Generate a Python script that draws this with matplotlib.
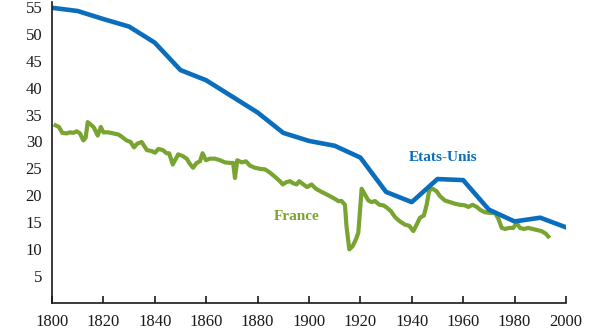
import matplotlib
matplotlib.use("Agg")
import matplotlib.pyplot as plt

# Etats-Unis (par décennie)
us_years = [1800, 1810, 1820, 1830, 1840, 1850, 1860, 1870, 1880, 1890, 1900,
            1910, 1920, 1930, 1940, 1950, 1960, 1970, 1980, 1990, 2000]
us_values = [54.9, 54.3, 52.8, 51.4, 48.4, 43.3, 41.4, 38.4, 35.4, 31.6, 30.1,
             29.2, 27.0, 20.6, 18.7, 23.0, 22.8, 17.3, 15.1, 15.8, 14.0]

# France (annuel)
fr_years = [1801.4, 1802.7, 1804, 1805.7, 1807, 1808.3, 1809.6, 1810.9, 1812.2, 1813.1,
            1813.9, 1815, 1816.3, 1817.8, 1819, 1820, 1821.9, 1823.9, 1825.8, 1827.1,
            1829, 1830.6, 1831.9, 1833.2, 1834.9, 1836.9, 1838.8, 1840.1, 1841.4, 1843.1,
            1844.6, 1845.6, 1847, 1848.2, 1849.1, 1850.8, 1852.4, 1853.7, 1854.9, 1856.3,
            1857.6, 1858.6, 1859.9, 1861.5, 1863.4, 1865.4, 1867.3, 1869.3, 1870.5, 1871.2,
            1872.1, 1873.8, 1875.5, 1877, 1879, 1880.9, 1882.9, 1884.8, 1886.8, 1888.7,
            1889.8, 1891.1, 1892.6, 1893.9, 1895.2, 1896.2, 1897.8, 1899.3, 1901, 1902.7,
            1904.5, 1906.2, 1908.2, 1910.1, 1911.4, 1912.7, 1914, 1914.6, 1915.7, 1917,
            1918.3, 1919.2, 1920.5, 1921.8, 1923.1, 1924.4, 1925.7, 1927.4, 1929, 1930.5,
            1931.9, 1933.5, 1935.4, 1937.4, 1939, 1940.6, 1941.9, 1943.2, 1944.7, 1945.8,
            1946.8, 1948.1, 1949.7, 1951, 1952.9, 1954.9, 1956.8, 1958.8, 1960.7, 1962,
            1963.7, 1965.3, 1966.8, 1968.5, 1970.4, 1972.4, 1973.7, 1975, 1976.3, 1977.9,
            1979.5, 1980.8, 1982.1, 1983.7, 1985.3, 1987, 1988.8, 1990.5, 1992.2, 1993.1]
fr_values = [33.0, 32.7, 31.6, 31.5, 31.7, 31.6, 31.9, 31.5, 30.2, 30.7,
             33.6, 33.2, 32.6, 31.1, 32.7, 31.7, 31.7, 31.5, 31.3, 30.9,
             30.2, 29.9, 28.9, 29.6, 29.9, 28.4, 28.2, 27.9, 28.6, 28.4,
             27.8, 27.8, 25.7, 26.8, 27.6, 27.3, 26.8, 25.8, 25.1, 26.0,
             26.3, 27.8, 26.5, 26.8, 26.8, 26.5, 26.1, 26.0, 26.0, 23.2,
             26.5, 26.1, 26.3, 25.5, 25.1, 24.9, 24.8, 24.2, 23.4, 22.6,
             22.0, 22.4, 22.6, 22.2, 22.0, 22.6, 22.0, 21.5, 22.0, 21.2,
             20.7, 20.3, 19.8, 19.3, 18.9, 18.9, 18.2, 14.2, 9.9, 10.5,
             11.8, 13.0, 21.2, 20.1, 19.0, 18.7, 18.9, 18.2, 18.1, 17.6,
             17.0, 15.9, 15.1, 14.5, 14.3, 13.3, 14.5, 15.8, 16.2, 18.2,
             20.9, 21.2, 20.7, 19.8, 19.0, 18.7, 18.4, 18.2, 18.1, 17.8,
             18.2, 17.8, 17.2, 16.8, 16.7, 16.7, 15.6, 13.9, 13.7, 13.9,
             13.9, 14.8, 13.9, 13.7, 13.9, 13.7, 13.5, 13.3, 12.8, 12.3]

x_ticks = list(range(1800, 2001, 20))
y_ticks = list(range(5, 56, 5))

blue = "#0A6EBD"
green = "#79A431"
text_color = "#1a1a1a"

plt.rcParams["font.family"] = ["Liberation Serif", "DejaVu Serif"]

fig = plt.figure(figsize=(6.1, 3.3), dpi=100)
ax = fig.add_axes([0.0852, 0.0833, 0.8426, 0.911])

ax.plot(fr_years, fr_values, color=green, linewidth=3.0, solid_joinstyle="round")
ax.plot(us_years, us_values, color=blue, linewidth=3.3, solid_joinstyle="round")

ax.text(1952, 27.0, "Etats-Unis", color=blue, fontsize=11, fontweight="bold",
        ha="center", va="center")
ax.text(1895.3, 16.1, "France", color=green, fontsize=11, fontweight="bold",
        ha="center", va="center")

ax.set_xlim(1800, 2000)
ax.set_ylim(0, 56)
ax.set_xticks(x_ticks)
ax.set_yticks(y_ticks)

for side in ["top", "right"]:
    ax.spines[side].set_visible(False)
for side in ["left", "bottom"]:
    ax.spines[side].set_color(text_color)
    ax.spines[side].set_linewidth(1.2)

ax.tick_params(axis="x", direction="in", length=5, width=1.2, colors=text_color,
               labelsize=12, pad=8)
ax.tick_params(axis="y", length=0, colors=text_color, labelsize=12, pad=7)

fig.savefig("out.png", dpi=100)
